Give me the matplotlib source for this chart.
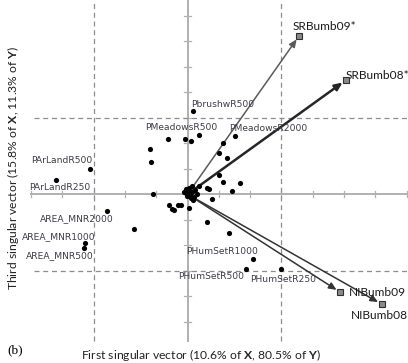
"""
Biplot of the singular vectors: predictor loadings (dots) and response vectors (arrows)
"""
import matplotlib.pyplot as plt

# Predictor loadings on the first and third singular vectors
pred_x = [0.18, -0.61, -0.07, 0.10, 0.37, -1.19, -1.16, 1.52, 1.14, 1.02, 1.27,
          -3.11, -4.20, -1.09, -2.56, -1.71, -3.27, -3.30, 1.02, 1.14, 1.69, 1.43,
          0.61, 0.70, 0.77, -0.58, -0.50, -0.42, -0.30, -0.21, 0.03, 0.61, 1.32,
          2.10, 1.86, 3.00,
          -0.05, 0.03, 0.08, 0.15, 0.24, 0.22, 0.11, 0.35, 0.13, 0.29, -0.01,
          -0.05, -0.11, 0.05, 0.18]
pred_y = [3.26, 2.16, 2.16, 2.10, 2.33, 1.76, 1.25, 2.29, 2.00, 1.61, 1.41,
          1.00, 0.56, 0.00, -0.65, -1.37, -1.90, -2.09, 0.76, 0.47, 0.45, 0.11,
          0.23, 0.20, -0.17, -0.43, -0.56, -0.62, -0.44, -0.41, -0.55, -1.07, -1.53,
          -2.55, -2.93, -2.94,
          0.21, 0.10, -0.03, 0.08, 0.17, -0.09, -0.16, 0.34, 0.34, 0.00, -0.07,
          0.04, 0.09, 0.25, -0.22]

# Named predictors
pred_names = ['PbrushwR500', 'PMeadowsR500', 'PMeadowsR2000', 'PArLandR500',
              'PArLandR250', 'AREA_MNR2000', 'AREA_MNR1000', 'AREA_MNR500',
              'PHumSetR1000', 'PHumSetR500', 'PHumSetR250']
name_x = [0.10, -1.36, 1.34, -5.01, -5.05, -4.73, -5.28, -5.17, -0.03, -0.29, 2.00]
name_y = [3.54, 2.63, 2.59, 1.31, 0.27, -0.94, -1.66, -2.41, -2.26, -3.24, -3.33]

# Response vectors
resp_names = ['SRBumb09*', 'SRBumb08*', 'NIBumb09', 'NIBumb08']
resp_x = [3.56, 5.06, 4.87, 6.20]
resp_y = [6.21, 4.48, -3.84, -4.31]

x_title = r'First singular vector (10.6% of $\mathbf{X}$, 80.5% of $\mathbf{Y}$)'
y_title = r'Third singular vector (15.8% of $\mathbf{X}$, 11.3% of $\mathbf{Y}$)'

plt.rcParams['mathtext.fontset'] = 'custom'
plt.rcParams['mathtext.rm'] = 'Lato'
plt.rcParams['mathtext.bf'] = 'Lato:bold'

fig = plt.figure(figsize=(4.08, 3.63), dpi=100)
ax = fig.add_axes([0, 0, 1, 1])
ax.set_xlim(-5.99, 7.04)
ax.set_ylim(-6.62, 7.62)
ax.axis('off')

axis_col = '#b0b0b0'
dash_col = '#8c8c8c'

# Axes through the origin with small cross ticks
ax.plot([-5.0, 7.04], [0, 0], color=axis_col, lw=1.4, zorder=1)
ax.plot([0, 0], [-5.74, 7.62], color=axis_col, lw=1.4, zorder=1)
for t in range(-5, 8):
    ax.plot([t, t], [-0.12, 0.12], color=axis_col, lw=0.9, zorder=1)
for t in range(-5, 8):
    ax.plot([-0.1, 0.1], [t, t], color=axis_col, lw=0.9, zorder=1)

# Reference box at +/- 3
for v in (-3, 3):
    ax.plot([v, v], [-5.74, 7.62], color=dash_col, lw=0.9, ls=(0, (4, 3)), zorder=1)
    ax.plot([-4.9, 7.04], [v, v], color=dash_col, lw=0.9, ls=(0, (4, 3)), zorder=1)

# Predictors
ax.scatter(pred_x, pred_y, s=14, color='black', zorder=3, linewidths=0)
for name, lx, ly in zip(pred_names, name_x, name_y):
    ax.text(lx, ly, name, fontsize=6.6, color='#3c3c4a', ha='left', va='center',
            family='DejaVu Sans', zorder=4)

# Responses as arrows from the origin
arrow_col = ['#5a5a5a', '#262626', '#333333', '#333333']
arrow_lw = [1.1, 1.8, 1.1, 1.1]
for name, ex, ey, c, lw in zip(resp_names, resp_x, resp_y, arrow_col, arrow_lw):
    ax.annotate('', xy=(ex, ey), xytext=(0, 0),
                arrowprops=dict(arrowstyle='-|>,head_length=0.45,head_width=0.2',
                                color=c, lw=lw, shrinkA=0, shrinkB=3), zorder=2)
    ax.plot(ex, ey, marker='s', ms=4, mfc='#8a8a8a', mec='#303030', mew=0.8, zorder=5)

resp_lab = [(3.34, 6.60), (5.05, 4.67), (5.14, -3.86), (5.21, -4.77)]
for name, (lx, ly) in zip(resp_names, resp_lab):
    ax.text(lx, ly, name, fontsize=8.6, color='#1a1a1a', ha='left', va='center',
            family='Lato', zorder=4)

# Titles and panel tag
fig.text(0.493, 0.022, x_title, fontsize=8.7, family='Lato', color='#222222',
         ha='center', va='center')
fig.text(0.032, 0.537, y_title, fontsize=8.7, family='Lato', color='#222222',
         ha='center', va='center', rotation=90)
fig.text(0.017, 0.036, '(b)', fontsize=9.5, family='Liberation Serif', color='black',
         ha='left', va='center')

plt.savefig('out.png', dpi=100)
